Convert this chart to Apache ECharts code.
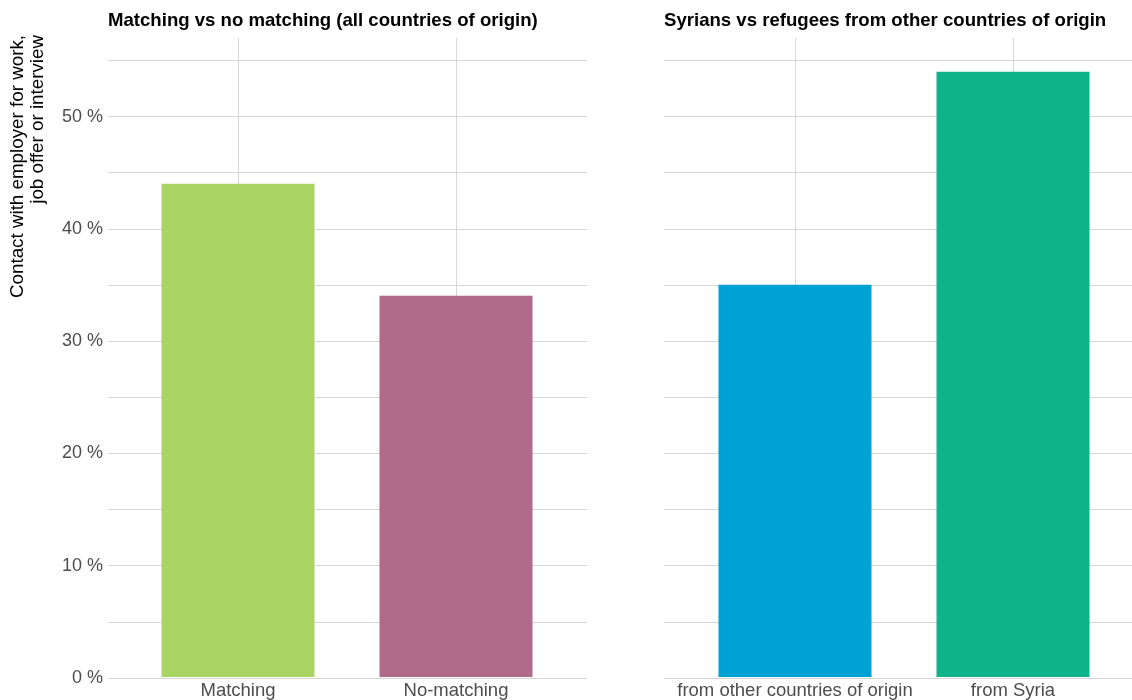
<!DOCTYPE html>
<html>
<head>
<meta charset="utf-8">
<script src="https://cdn.jsdelivr.net/npm/echarts@6/dist/echarts.min.js"></script>
<style>
html, body { margin: 0; padding: 0; background: #fff; }
#chart { width: 1132px; height: 700px; }
</style>
</head>
<body>
<div id="chart"></div>
<script>
// data
var leftTitle = 'Matching vs no matching (all countries of origin)';
var rightTitle = 'Syrians vs refugees from other countries of origin';
var leftCats = ['Matching', 'No-matching'];
var leftVals = [44, 34];
var leftColors = ['#a9d363', '#b06a8a'];
var rightCats = ['from other countries of origin', 'from Syria'];
var rightVals = [35, 54];
var rightColors = ['#00a1d5', '#0fb389'];
var yMax = 57;

var font = '"Liberation Sans", Arial, sans-serif';
var gridColor = '#d6d6d6';
var gTop = 38, gBottom = 22;

var myChart = echarts.init(document.getElementById('chart'));

function wideY(idx, showLabels) {
	return {
		type : 'value', gridIndex : idx, min : 0, max : yMax, interval : 5,
		axisLine : { show : false }, axisTick : { show : false },
		axisLabel : {
			show : showLabels, color : '#4d4d4d', fontSize : 18, fontFamily : font, margin : 5,
			formatter : function(v) { return (v % 10 === 0 && v <= 50) ? v + ' %' : ''; }
		},
		splitLine : { show : true, showMaxLine : false, lineStyle : { color : gridColor, width : 1 } }
	};
}
function narrowY(idx) {
	return {
		type : 'value', gridIndex : idx, min : 0, max : yMax, show : false,
		splitLine : { show : false }
	};
}
function narrowX(idx, cats) {
	return {
		type : 'category', gridIndex : idx, data : cats, boundaryGap : false,
		axisLine : { show : false }, axisTick : { show : false },
		axisLabel : { color : '#4d4d4d', fontSize : 18.5, fontFamily : font, margin : 4, interval : 0 },
		splitLine : { show : true, lineStyle : { color : gridColor, width : 1 } }
	};
}
function wideX(idx) {
	return { type : 'value', gridIndex : idx, show : false, min : 0, max : 1 };
}
function bars(idx, vals, colors) {
	return {
		type : 'bar', xAxisIndex : idx, yAxisIndex : idx, barWidth : 153, clip : false,
		data : vals.map(function(v, i) {
			return { value : v, itemStyle : { color : colors[i] } };
		}),
		silent : true, z : 3
	};
}

var option = {
	animation : false,
	backgroundColor : '#fff',
	grid : [
		{ left : 108, width : 479, top : gTop, bottom : gBottom },
		{ left : 238, width : 218, top : gTop, bottom : gBottom },
		{ left : 664, width : 480, top : gTop, bottom : gBottom },
		{ left : 795, width : 218, top : gTop, bottom : gBottom }
	],
	xAxis : [ wideX(0), narrowX(1, leftCats), wideX(2), narrowX(3, rightCats) ],
	yAxis : [ wideY(0, true), narrowY(1), wideY(2, false), narrowY(3) ],
	series : [ bars(1, leftVals, leftColors), bars(3, rightVals, rightColors) ],
	graphic : [
		{ type : 'text', left : 108, top : 11,
		  style : { text : leftTitle, font : 'bold 18.6px ' + font, fill : '#000' } },
		{ type : 'text', left : 664, top : 11,
		  style : { text : rightTitle, font : 'bold 18.6px ' + font, fill : '#000' } },
		{ type : 'text', x : 28, y : 35, rotation : Math.PI / 2,
		  style : { text : 'Contact with employer for work,\njob offer or interview',
			font : '18.8px ' + font, fill : '#000', align : 'right', verticalAlign : 'middle', lineHeight : 20 } }
	]
};
myChart.setOption(option);
</script>
</body>
</html>
